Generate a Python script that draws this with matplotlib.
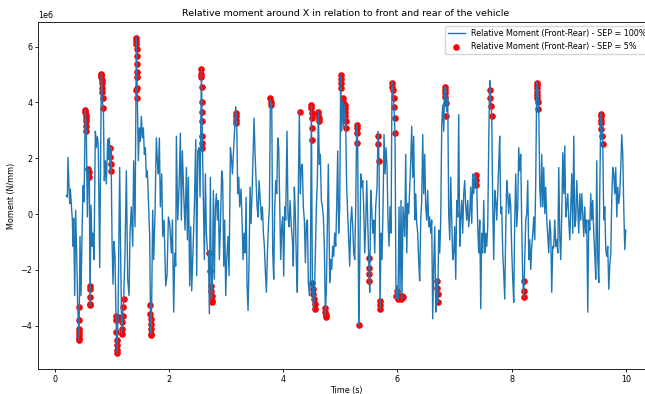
import numpy as np
import matplotlib
matplotlib.use("Agg")
import matplotlib.pyplot as plt

# relative moment (front - rear), values in 1e6 N/mm
time_s = [
    0.204, 0.222, 0.233, 0.251, 0.263, 0.274, 0.292, 0.309, 0.321, 0.332, 0.350, 0.367, 0.385, 0.402, 0.426,
    0.443, 0.461, 0.478, 0.496, 0.513, 0.537, 0.554, 0.572, 0.589, 0.607, 0.618, 0.636, 0.653, 0.671, 0.688,
    0.712, 0.729, 0.747, 0.764, 0.788, 0.817, 0.834, 0.852, 0.869, 0.887, 0.904, 0.928, 0.946, 0.957, 0.975,
    0.986, 1.004, 1.021, 1.039, 1.056, 1.074, 1.091, 1.109, 1.138, 1.156, 1.173, 1.191, 1.208, 1.231, 1.255,
    1.278, 1.302, 1.319, 1.342, 1.366, 1.383, 1.407, 1.430, 1.448, 1.465, 1.483, 1.500, 1.518, 1.535, 1.553,
    1.570, 1.588, 1.605, 1.623, 1.646, 1.663, 1.681, 1.698, 1.716, 1.734, 1.757, 1.780, 1.798, 1.815, 1.833,
    1.850, 1.874, 1.891, 1.915,
    1.944, 1.967, 1.991, 2.014, 2.043, 2.061, 2.084, 2.102, 2.119, 2.131, 2.154, 2.178, 2.201, 2.218, 2.236,
    2.259, 2.283, 2.306, 2.324, 2.341, 2.364, 2.382, 2.399, 2.423, 2.446, 2.470, 2.487, 2.505, 2.528, 2.545,
    2.569, 2.586, 2.604, 2.621, 2.639, 2.656, 2.674, 2.691, 2.709, 2.726, 2.744, 2.761, 2.779, 2.796, 2.814,
    2.831, 2.849, 2.866, 2.884, 2.901, 2.925, 2.942, 2.960, 2.977, 2.995, 3.012, 3.036, 3.053, 3.077, 3.094,
    3.112, 3.129, 3.147, 3.170, 3.188, 3.205, 3.223, 3.240, 3.263, 3.281, 3.298, 3.316, 3.334, 3.351, 3.369,
    3.386, 3.404, 3.421, 3.439, 3.456, 3.474, 3.491, 3.509, 3.526, 3.544, 3.561, 3.579, 3.602, 3.620, 3.637,
    3.655, 3.672, 3.690, 3.707, 3.725, 3.742, 3.760, 3.777, 3.801, 3.818, 3.836, 3.853, 3.871, 3.888, 3.906,
    3.923, 3.941, 3.958, 3.976, 3.993,
    4.010, 4.028, 4.045, 4.068, 4.086, 4.103, 4.121, 4.144, 4.162, 4.179, 4.197, 4.214, 4.232, 4.249, 4.267,
    4.284, 4.302, 4.319, 4.337, 4.354, 4.372, 4.390, 4.407, 4.425, 4.442, 4.460, 4.477, 4.495, 4.512, 4.530,
    4.547, 4.565, 4.582, 4.600, 4.617, 4.635, 4.652, 4.670, 4.687, 4.705, 4.722, 4.740, 4.757, 4.775, 4.792,
    4.816, 4.833, 4.851, 4.868, 4.886, 4.903, 4.921, 4.938, 4.956, 4.973, 4.991, 5.008, 5.026, 5.043, 5.061,
    5.078, 5.096, 5.113, 5.131, 5.148, 5.166, 5.183, 5.201, 5.219, 5.236, 5.254, 5.271, 5.289, 5.306, 5.324,
    5.341, 5.359, 5.376, 5.394, 5.411, 5.429, 5.446, 5.464, 5.481, 5.499, 5.516, 5.534, 5.551, 5.569, 5.586,
    5.604, 5.621, 5.645, 5.662, 5.680, 5.697, 5.715, 5.732, 5.750, 5.767, 5.785, 5.802, 5.820, 5.837, 5.855,
    5.872, 5.890, 5.907, 5.925, 5.942, 5.960, 5.977, 5.995, 6.012, 6.030, 6.047, 6.065, 6.082, 6.100,
    6.130, 6.147, 6.165, 6.182, 6.200, 6.217, 6.235, 6.252, 6.270, 6.287, 6.305, 6.322, 6.340, 6.357, 6.375,
    6.392, 6.410, 6.427, 6.445, 6.462, 6.480, 6.497, 6.515, 6.532, 6.550, 6.567, 6.585, 6.602, 6.620, 6.637,
    6.655, 6.673, 6.690, 6.708, 6.725, 6.743, 6.760, 6.778, 6.795, 6.813, 6.830, 6.848, 6.865, 6.883, 6.900,
    6.918, 6.935, 6.953, 6.970, 6.988, 7.005, 7.023, 7.040, 7.058, 7.075, 7.093, 7.110, 7.128, 7.145, 7.163,
    7.180, 7.198, 7.215, 7.233, 7.250, 7.268, 7.285, 7.303, 7.320, 7.338, 7.356, 7.373, 7.391, 7.408, 7.426,
    7.443, 7.461, 7.478, 7.496, 7.513, 7.531, 7.548, 7.566, 7.583, 7.601, 7.618, 7.636, 7.653, 7.671, 7.688,
    7.706, 7.723, 7.741, 7.758, 7.776, 7.793, 7.811, 7.828, 7.846, 7.863, 7.881, 7.898, 7.916, 7.933, 7.951,
    7.968, 7.986, 8.003, 8.021, 8.039, 8.056, 8.074, 8.091, 8.109, 8.126, 8.144, 8.161, 8.179, 8.196, 8.214,
    8.249, 8.267, 8.284, 8.302, 8.319, 8.337, 8.354, 8.372, 8.389, 8.407, 8.424, 8.442, 8.459, 8.477, 8.494,
    8.512, 8.529, 8.547, 8.564, 8.582, 8.599, 8.617, 8.634, 8.652, 8.669, 8.687, 8.704, 8.722, 8.739, 8.757,
    8.775, 8.792, 8.810, 8.827, 8.845, 8.862, 8.880, 8.897, 8.915, 8.932, 8.950, 8.967, 8.985, 9.002, 9.020,
    9.037, 9.055, 9.072, 9.090, 9.107, 9.125, 9.142, 9.160, 9.177, 9.195, 9.212, 9.230, 9.247, 9.265, 9.282,
    9.300, 9.317, 9.335, 9.352, 9.370, 9.387, 9.405, 9.422, 9.440, 9.457, 9.475, 9.492, 9.510, 9.528, 9.545,
    9.563, 9.580, 9.598, 9.615, 9.633, 9.650, 9.668, 9.685, 9.703, 9.720, 9.738, 9.755, 9.773, 9.790, 9.808,
    9.825, 9.843, 9.860, 9.878, 9.895, 9.913, 9.930, 9.948, 9.965, 9.983, 10.000,
]
moment = [
    0.67, 0.61, 2.03, 0.97, 0.38, 0.90, 0.32, -0.21, -1.15, -0.15, -2.92, 0.14, -1.39, -3.27, -4.51,
    -0.80, -2.92, -0.80, 1.02, 0.44, 3.73, 2.97, -0.10, 1.61, 1.32, -3.27, 0.32, -1.15, -0.68, -1.63,
    2.97, 2.38, 2.79, 2.38, -1.92, 5.03, 4.03, 3.79, 1.20, 1.91, 1.08, 2.67, 1.97, 2.73, 1.55,
    2.38, -0.92, -2.51, -0.98, -1.51, -3.75, -4.98, -3.63, 1.67, -1.63, -4.28, -3.63, -3.04, -1.39, 1.55,
    -2.33, -2.92, -0.68, 0.26, -1.15, 1.91, -0.45, 6.32, 4.15, 1.91, 3.09, 2.61, 3.50, 2.73, 3.09,
    2.14, 2.38, 1.32, 1.55, 0.26, -0.80, -4.28, -3.27, 0.14, -1.63, 0.08, 2.73, 1.91, 1.44, 2.73,
    0.26, 1.44, -0.80, -0.21,
    -2.57, -2.20, -0.10, -0.33, -1.39, -0.21, -3.51, -1.39, -1.86, 2.79, -0.21, 0.97, 2.90, -0.21, 2.26,
    0.73, -0.57, 1.67, -0.92, 1.32, -2.57, -0.45, -2.75, -1.15, 0.26, 2.67, -2.20, 2.26, 2.38, 0.61,
    5.21, 2.61, 0.49, -1.63, 1.44, -0.68, -1.27, -1.39, -3.57, 1.32, -3.04, -2.57, 0.85, -2.33, 0.26,
    0.73, -0.21, 0.49, -1.63, -0.45, 1.55, 1.20, -1.86, -0.21, -2.92, -1.63, -0.80, -2.20, 2.38, 2.03,
    1.44, 2.14, 2.90, 3.85, 3.20, 0.73, 1.32, 0.26, 0.90, -0.21, -1.63, -0.68, -1.39, 0.61, -2.57,
    -3.45, -1.63, 0.97, -0.33, 0.73, 2.14, 3.44, 2.14, 1.20, 0.26, -0.10, 1.20, 0.38, -0.21, 0.26,
    -0.68, -1.15, -2.10, -2.80, -1.39, -0.45, 0.26, 4.09, 3.91, -1.39, -2.33, 0.26, 1.20, 0.73, 2.73,
    2.38, 0.26, -1.63, -0.45, -0.10,
    -2.22, 0.26, -0.21, 2.97, -0.10, -0.45, 0.49, -0.45, -0.92, -1.86, 0.97, 0.02, -1.74, -2.80, 0.97,
    3.67, 0.73, 1.67, 1.79, 0.26, -0.21, -1.74, -0.33, -0.21, -2.45, -2.92, -2.33, 3.91, -2.45, -3.39,
    -2.92, -1.39, 0.26, 1.20, 3.67, 1.79, 2.14, 0.49, 0.26, -0.10, -1.15, -3.63, -2.69, -0.45, 1.79,
    -2.45, -1.63, -1.98, -1.15, -1.51, -0.68, -1.15, 0.26, 2.26, -0.68, 0.26, 4.97, 2.97, 4.03, 3.09,
    3.91, 3.20, 0.97, 0.02, -0.80, -1.86, -0.33, 0.26, -0.45, -1.39, -1.63, 0.26, 3.20, 2.61, -3.98,
    -1.86, 1.44, 0.97, 1.20, 0.26, -1.39, -0.45, 1.20, -0.21, -1.63, -2.80, 0.85, 0.26, -0.68, -0.21,
    -1.39, 0.26, 0.97, 2.97, 1.91, -3.39, -0.68, -1.63, 0.26, 2.85, 1.44, 2.38, 1.67, -0.21, -1.15,
    0.26, -0.68, 4.73, 4.50, 3.79, 2.90, -3.04, -2.57, -3.04, 0.26, -2.80, 0.49, -3.04, 0.26,
    -0.80, 2.14, -1.39, 0.38, 0.02, 0.97, 1.91, 3.14, 1.32, 2.79, -0.21, 0.73, -0.33, -0.68, -1.74,
    -2.39, -0.21, 0.49, 2.85, 0.73, 2.14, 0.26, -0.21, 0.85, -0.45, -0.10, -0.68, -0.21, -3.75, -1.86,
    -0.45, -3.51, -2.33, -3.16, -0.57, -1.39, -0.21, 3.20, 3.91, 2.97, 4.56, 4.50, 3.67, 4.15, 0.02,
    -0.92, 1.32, -0.21, -1.63, -1.39, -0.45, -2.33, 0.49, -0.10, 3.56, -1.15, -0.21, 0.49, -0.68, 0.73,
    1.20, 0.26, -0.21, 0.49, -0.45, 0.02, 0.97, -0.33, 1.44, 0.73, 1.44, 1.32, 1.08, -0.45, -1.39,
    -0.21, -3.39, -0.68, -1.39, 0.49, -1.39, -0.68, -1.15, -0.45, 2.61, 4.79, 4.03, 3.56, 0.26, -1.63,
    0.85, 0.49, -0.21, 0.73, 1.79, 2.79, 0.02, 0.26, -1.39, -2.10, -3.04, -0.57, 1.20, 0.73, 0.02,
    0.73, 0.26, -1.27, -2.33, -3.16, -0.21, 1.44, -0.45, 0.26, 2.38, 1.55, 2.14, -0.45, -2.33, -2.98,
    -0.21, 0.02, 1.20, -1.63, -0.92, -1.98, -1.15, -0.68, -0.10, -0.92, 1.20, 4.73, 4.50, 3.79, 0.97,
    0.26, 2.14, 0.26, 1.67, 0.02, 0.97, -0.21, -0.80, -1.39, -0.21, -0.68, -2.80, -1.15, -1.21, -0.21,
    -1.15, -0.92, -1.39, 1.67, -0.80, -1.63, 0.02, 2.20, 0.73, 2.44, -0.10, 0.26, 0.73, -0.21, -0.92,
    0.26, 1.44, -0.68, 2.79, -0.45, -0.21, 1.20, 0.26, -0.68, 0.73, -0.21, 0.73, 0.02, -0.80, 0.26,
    -0.68, -0.21, -3.51, -0.21, -0.57, 0.73, -0.21, 0.49, -0.68, -1.39, -2.33, 1.91, -1.63, -2.45, 0.73,
    3.62, 3.32, 2.50, -0.21, 0.26, -1.27, -1.51, -1.15, -2.69, -1.86, -1.39, 0.49, 1.67, 1.44, 0.73,
    1.67, -0.10, 0.97, 0.38, 0.73, 1.67, 2.85, 2.14, 0.26, -1.27, -0.57,
]

# SEP = 5% points (red)
sep_time = [
    0.420, 0.421, 0.422, 0.423, 0.424, 0.425, 0.426,
    0.537, 0.539, 0.541, 0.543, 0.546, 0.550, 0.554,
    0.590, 0.598, 0.605,
    0.612, 0.614, 0.616, 0.618, 0.620,
    0.815, 0.817, 0.819, 0.822, 0.825, 0.829, 0.833, 0.838, 0.845,
    0.972, 0.975, 0.978, 0.981,
    1.074, 1.078, 1.082, 1.086, 1.089, 1.091, 1.093, 1.105,
    1.173, 1.178, 1.184, 1.190, 1.198, 1.206,
    1.422, 1.428, 1.430, 1.432, 1.434, 1.436, 1.438, 1.440, 1.442, 1.445, 1.448,
    1.672, 1.675, 1.678, 1.681, 1.684, 1.688, 1.692,
    2.566, 2.568, 2.570, 2.573, 2.576, 2.578, 2.580, 2.583, 2.585, 2.587,
    2.703, 2.726, 2.740, 2.745, 2.750, 2.755, 2.760,
    3.168, 3.172, 3.176, 3.180,
    3.775, 3.780, 3.785,
    4.287,
    4.495, 4.497, 4.499, 4.501, 4.503, 4.506,
    4.510, 4.520, 4.530, 4.540, 4.550, 4.560,
    4.615, 4.618, 4.621, 4.624,
    4.738, 4.741, 4.744, 4.747,
    5.006, 5.008, 5.011, 5.014, 5.040, 5.045, 5.075, 5.080, 5.085, 5.090, 5.095, 5.100,
    5.286, 5.289, 5.293, 5.298,
    5.324,
    5.496, 5.500, 5.505, 5.510,
    5.662, 5.667, 5.675,
    5.694, 5.697, 5.700,
    5.910, 5.915, 5.920, 5.935, 5.945, 5.952, 5.958,
    5.980, 5.995, 6.010, 6.040, 6.070, 6.085, 6.100,
    6.700, 6.702, 6.705, 6.708,
    6.830, 6.833, 6.836, 6.840, 6.845, 6.860,
    7.370, 7.375, 7.380,
    7.622, 7.628, 7.640, 7.655,
    8.213, 8.218, 8.224,
    8.440, 8.442, 8.444, 8.446, 8.448, 8.451, 8.455, 8.462,
    9.560, 9.562, 9.565, 9.568, 9.575, 9.585, 9.595,
]
sep_moment = [
    -3.33, -3.80, -4.10, -4.22, -4.34, -4.43, -4.51,
    3.73, 3.65, 3.56, 3.44, 3.32, 3.14, 2.97,
    1.61, 1.50, 1.32,
    -2.57, -2.69, -2.98, -3.22, -3.27,
    5.03, 4.97, 4.91, 4.79, 4.68, 4.50, 4.38, 4.15, 3.79,
    2.38, 2.03, 1.79, 1.55,
    -3.63, -3.80, -4.22, -4.51, -4.69, -4.87, -4.98, -3.70,
    -4.28, -4.10, -3.86, -3.63, -3.33, -3.04,
    4.45, 6.32, 6.21, 6.09, 5.91, 5.68, 5.38, 5.09, 4.91, 4.50, 4.15,
    -3.27, -3.57, -3.75, -3.92, -4.10, -4.28, -4.34,
    5.21, 5.03, 4.91, 4.56, 4.03, 3.67, 3.32, 2.79, 2.56, 2.38,
    -1.39, -2.04, -2.57, -2.75, -2.92, -3.10, -3.16,
    3.62, 3.50, 3.38, 3.26,
    4.15, 4.03, 3.91,
    3.67,
    3.91, 3.79, 3.62, 3.44, 3.09, 2.67,
    -2.45, -2.69, -2.86, -3.04, -3.22, -3.39,
    3.67, 3.56, 3.44, 3.32,
    -3.37, -3.49, -3.61, -3.70,
    4.97, 4.85, 4.68, 4.50, 4.15, 4.03, 3.91, 3.79, 3.67, 3.50, 3.32, 3.09,
    3.20, 3.09, 2.90, 2.55,
    -3.98,
    -1.57, -1.92, -2.16, -2.39,
    2.79, 2.50, 1.91,
    -3.10, -3.27, -3.39,
    4.68, 4.56, 4.44, 4.15, 3.85, 3.44, 2.90,
    -2.92, -2.75, -3.04, -2.92, -3.04, -2.92, -2.98,
    -2.39, -2.63, -2.86, -3.16,
    4.56, 4.44, 4.32, 4.20, 3.97, 3.50,
    1.41, 1.22, 1.06,
    4.44, 4.15, 3.88, 3.50,
    -2.39, -2.75, -2.98,
    4.70, 4.62, 4.50, 4.38, 4.26, 4.15, 4.00, 3.77,
    3.58, 3.50, 3.38, 3.26, 3.06, 2.79, 2.50,
]

fig = plt.figure(figsize=(6.45, 3.94), dpi=100)
ax = fig.add_axes([0.0595, 0.0635, 0.954, 0.881])

ax.plot(time_s, np.array(moment) * 1e6, lw=1.0, label="Relative Moment (Front-Rear) - SEP = 100%")
ax.scatter(sep_time, np.array(sep_moment) * 1e6, color="red", s=14, label="Relative Moment (Front-Rear) - SEP = 5%")

ax.set_title("Relative moment around X in relation to front and rear of the vehicle", fontsize=6.8, pad=4)
ax.set_xlabel("Time (s)", fontsize=5.8, labelpad=1.5)
ax.set_ylabel("Moment (N/mm)", fontsize=5.8, labelpad=3)
ax.tick_params(labelsize=5.8, length=2.5, width=0.6, pad=2)
ax.yaxis.get_offset_text().set_fontsize(5.8)
for sp in ax.spines.values():
    sp.set_linewidth(0.6)
ax.legend(loc="upper right", fontsize=5.8)

fig.savefig("out.png", dpi=100)
